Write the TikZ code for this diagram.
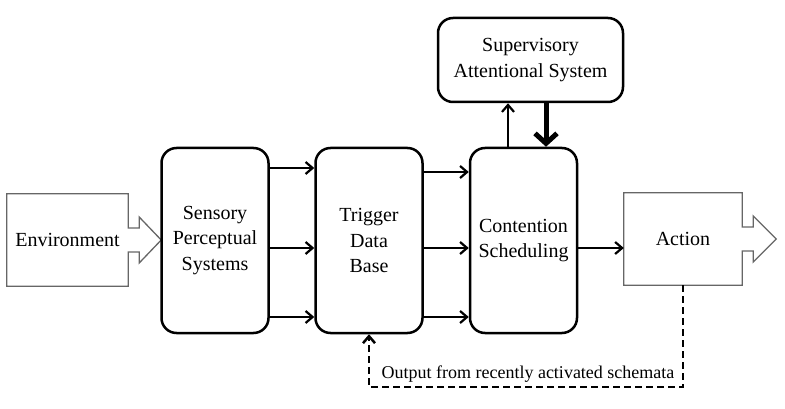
\documentclass[tikz,border=0pt]{standalone}
\usepackage{fontspec}
\setmainfont{Liberation Serif}
\usetikzlibrary{arrows.meta}

\begin{document}
\begin{tikzpicture}[x=1pt, y=-1pt, every node/.style={font=\fontsize{20}{25.5}\selectfont, align=center}, >={Straight Barb[length=7pt,width=12pt]}]
	\useasboundingbox (0,0) rectangle (785,409);
	\tikzset{
		stage/.style={draw, line width=2.5pt, rounded corners=15pt, minimum width=107pt, minimum height=185pt},
		flow/.style={->, line width=2.2pt},
		outline/.style={black!60, line width=1.3pt}
	}
	\node[minimum width=121pt, minimum height=92pt] (env) at (67.5,240) {Environment};
	\draw[outline] (env.north west) -- (env.north east) -- ([yshift=12pt]env.east) -- ++(11,0) -- ++(0,-11) -- ++(22,23) -- ++(-22,23) -- ++(0,-11) -- ++(-11,0) -- (env.south east) -- (env.south west) -- cycle;
	\node[stage] (sps) at (215,240.5) {Sensory\\Perceptual\\Systems};
	\node[stage] (tdb) at (369,240.5) {Trigger\\Data\\Base};
	\node[stage] (cs) at (523.5,240.5) {Contention\\Scheduling};
	\node[stage, minimum width=185pt, minimum height=84pt] (sas) at (530.5,60) {Supervisory\\Attentional System};
	\node[minimum width=118pt, minimum height=92pt] (act) at (683,239) {Action};
	\draw[outline] (act.north west) -- (act.north east) -- ([yshift=12pt]act.east) -- ++(11,0) -- ++(0,-11) -- ++(23,23) -- ++(-23,23) -- ++(0,-11) -- ++(-11,0) -- (act.south east) -- (act.south west) -- cycle;
	\foreach \y in {168,248,317} {\draw[flow] (sps.east |- 0,\y) -- (tdb.west |- 0,\y);}
	\foreach \y in {172,248,317} {\draw[flow] (tdb.east |- 0,\y) -- (cs.west |- 0,\y);}
	\draw[flow] (cs.east |- 0,248) -- (act.west |- 0,248);
	\draw[flow] (cs.north -| 508,0) -- (sas.south -| 508,0);
	\draw[line width=5pt, -{Straight Barb[length=10pt,width=22pt]}] (sas.south -| 546,0) -- (cs.north -| 546,0);
	\draw[->, line width=2.5pt, dash pattern=on 7pt off 4pt] (act.south) -- (act.south |- 0,387) -| (tdb.south);
	\node[font=\fontsize{18}{22}\selectfont, anchor=base west] (outlbl) at (378,378) {Output from recently activated schemata};
\end{tikzpicture}
\end{document}
